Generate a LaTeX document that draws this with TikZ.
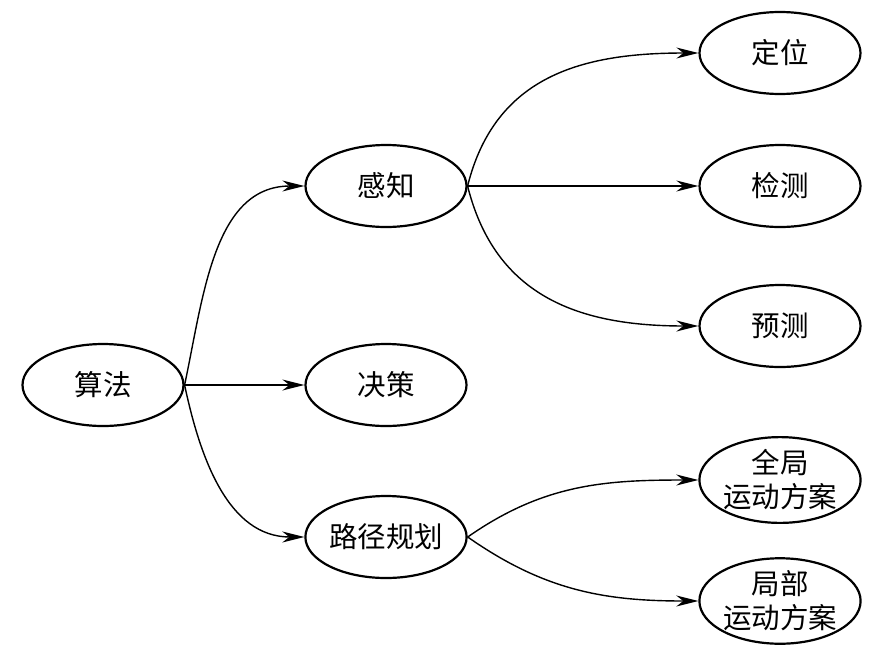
\documentclass[tikz,border=0pt]{standalone}
\usepackage{fontspec}
\newfontfamily\cjk{Noto Sans CJK SC}
\usetikzlibrary{shapes.geometric, arrows.meta}
\tikzset{
  box/.style={ellipse, draw, line width=2.2pt, inner sep=0pt,
    minimum width=161pt, minimum height=82pt, align=center,
    font=\cjk\fontsize{28.5}{34}\selectfont},
  conn/.style={-{Stealth[length=22pt, width=11pt, inset=7pt]}, line width=1.4pt}
}
\begin{document}
\begin{tikzpicture}[x=1pt, y=-1pt, line cap=round, line join=round]
\useasboundingbox (0,0) rectangle (881,662);
% ---- root and first level ----
\node[box] (alg) at (103,385) {算法};
\node[box] (perc) at (386,186) {感知};
\node[box] (dec) at (386,385) {决策};
\node[box] (plan) at (386,537) {路径规划};
% ---- second level ----
\foreach \nm/\y/\txt in {loc/53/定位, det/186/检测, pred/326/预测} {
  \node[box] (\nm) at (780,\y) {\txt};
}
\node[box] (glob) at (780,480) {全局\\运动方案};
\node[box] (local) at (780,601) {局部\\运动方案};
% ---- connectors ----
\draw[conn] (alg.east) -- (dec.west);
\draw[conn] (perc.east) -- (det.west);
\foreach \dst/\ang in {perc/78, plan/-78} {
  \draw[conn] (alg.east) to[out=\ang, in=180] (\dst.west);
}
\foreach \dst/\ang in {loc/76, pred/-76} {
  \draw[conn] (perc.east) to[out=\ang, in=180, looseness=1.1] (\dst.west);
}
\foreach \dst/\ang in {glob/35, local/-35} {
  \draw[conn] (plan.east) to[out=\ang, in=180] (\dst.west);
}
\end{tikzpicture}
\end{document}
